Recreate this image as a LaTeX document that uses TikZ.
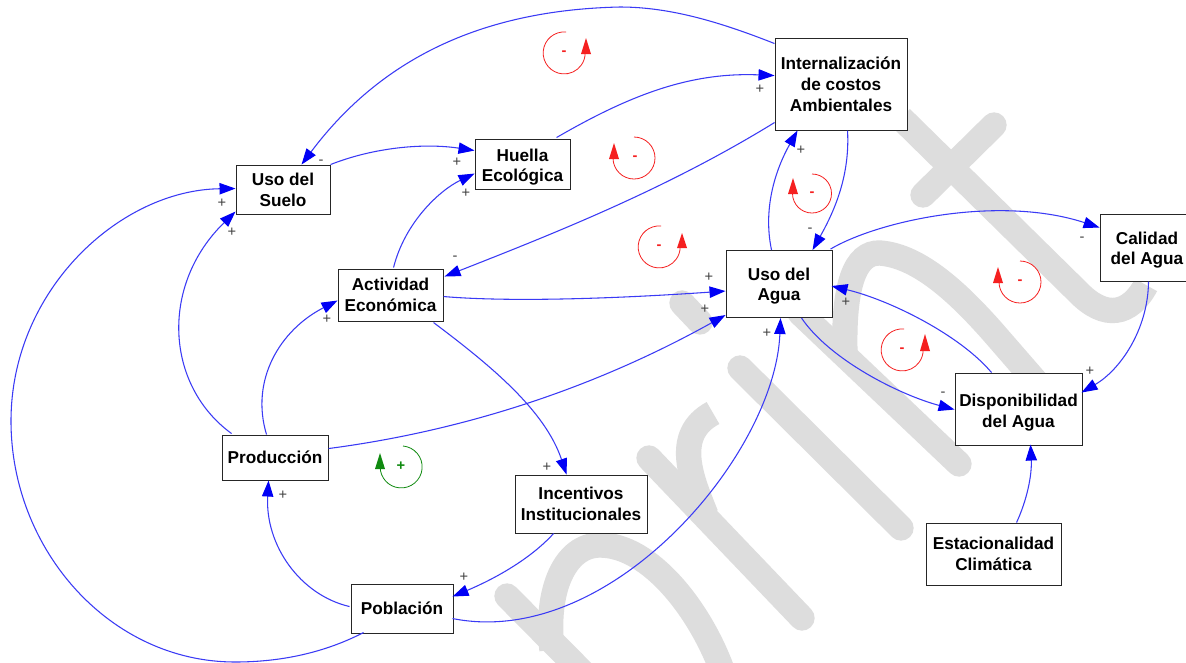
\documentclass[tikz,border=0pt]{standalone}
\usepackage{fontspec}
\setmainfont{Liberation Sans}
\usetikzlibrary{arrows.meta}
\definecolor{wm}{HTML}{DDDDDD}
\definecolor{linkblue}{HTML}{3A3AF5}
\definecolor{tipblue}{HTML}{0000F5}
\definecolor{loopred}{HTML}{F52020}
\definecolor{loopgreen}{HTML}{108A10}
\tikzset{
  px/.style={x=0.75pt,y=-0.75pt},
  mark stroke/.style={draw=wm,line width=19pt,line cap=round},
  box/.style={draw=black!85,fill=white,line width=0.7pt,inner sep=0pt,align=center,
    font=\fontsize{12.9}{15.6}\selectfont\bfseries},
  link/.style={draw=linkblue,line width=0.8pt,-{Triangle[length=12pt,width=8.5pt,color=tipblue]}},
  signlabel/.style={font=\fontsize{11}{11}\selectfont,text=black!75,inner sep=0pt},
  loopline/.style={line width=0.6pt},
  loopsign/.style={font=\fontsize{11}{11}\selectfont\bfseries,inner sep=0pt},
}
\begin{document}
\begin{tikzpicture}[px]
\useasboundingbox (0,0) rectangle (1186,662);
\fill[white] (0,0) rectangle (1186,662);
% watermark
\begin{scope}
\clip (0,0) rectangle (1186,662);
\draw[mark stroke] (507,596) -- (610,700);
\draw[mark stroke,line cap=butt] (552,650) .. controls (545,590) and (565,545) .. (600,545) .. controls (650,545) and (700,610) .. (722,670);
\draw[mark stroke] (649,458) -- (802,618);
\draw[mark stroke,line cap=butt] (706,515) .. controls (692,480) and (672,435) .. (713,413);
\draw[mark stroke] (740,368) -- (901,528);
\draw[mark stroke] (682,303) -- (700,322);
\draw[mark stroke] (800,313) -- (959,464);
\draw[mark stroke,line cap=butt] (845,355) .. controls (843,285) and (855,252) .. (880,253) .. controls (920,256) and (960,295) .. (992,331) -- (1045,392);
\draw[mark stroke,line cap=butt] (901,118) -- (1078,292) .. controls (1105,320) and (1130,315) .. (1146,285);
\draw[mark stroke] (994,125) -- (923,195);
\end{scope}
% boxes
\node[box,minimum width=94*0.75pt,minimum height=49*0.75pt] (suelo) at (283,189.5) {Uso del\\Suelo};
\node[box,minimum width=95*0.75pt,minimum height=50*0.75pt] (huella) at (522.5,164) {\rule{0pt}{13.9pt}Huella\\Ecológica};
\node[box,minimum width=132*0.75pt,minimum height=92*0.75pt] (costos) at (841,84) {Internalización\\de costos\\Ambientales};
\node[box,minimum width=105*0.75pt,minimum height=52*0.75pt] (actividad) at (390.5,295) {Actividad\\Económica};
\node[box,minimum width=106*0.75pt,minimum height=67*0.75pt] (uso) at (779,284) {\rule{0pt}{12.4pt}Uso del\\Agua};
\node[box,minimum width=94*0.75pt,minimum height=67*0.75pt] (calidad) at (1147,247.5) {\rule{0pt}{13.2pt}Calidad\\del Agua};
\node[box,minimum width=127*0.75pt,minimum height=72*0.75pt] (dispo) at (1018.5,409) {\rule{0pt}{14.6pt}Disponibilidad\\del Agua};
\node[box,minimum width=106*0.75pt,minimum height=45*0.75pt] (prod) at (275,457.5) {Producción};
\node[box,minimum width=132*0.75pt,minimum height=58*0.75pt] (incent) at (581,504) {Incentivos\\Institucionales};
\node[box,minimum width=102*0.75pt,minimum height=49*0.75pt] (pobl) at (402,608.5) {Población};
\node[box,minimum width=135*0.75pt,minimum height=62*0.75pt] (estac) at (993.5,554) {Estacionalidad\\Climática};
% connectors
\draw[link] ([shift={(0,6)}]costos.north west) .. controls (720,22) and (670,7) .. (620,7) .. controls (480,10) and (380,60) .. ([shift={(66,0)}]suelo.north west);
\draw[link] ([shift={(95,0)}]suelo.north west) .. controls (375,147) and (425,143) .. ([shift={(0,12)}]huella.north west);
\draw[link] ([shift={(82,-1)}]huella.north west) .. controls (630,95) and (690,72) .. ([shift={(0,38)}]costos.north west);
\draw[link] ([shift={(0,85)}]costos.north west) .. controls (665,190) and (550,235) .. ([shift={(107,8)}]actividad.north west);
\draw[link] ([shift={(56,-1)}]actividad.north west) .. controls (405,222) and (440,190) .. ([shift={(0,35)}]huella.north west);
\draw[link] ([shift={(106,28)}]actividad.north west) .. controls (520,303) and (640,297) .. ([shift={(0,41)}]uso.north west);
\draw[link] ([shift={(96,54)}]actividad.north west) .. controls (490,365) and (545,410) .. ([shift={(52,0)}]incent.north west);
\draw[link] ([shift={(10,-1)}]prod.north west) .. controls (165,385) and (160,285) .. ([shift={(0,47)}]suelo.north west);
\draw[link] ([shift={(45,0)}]prod.north west) .. controls (250,380) and (280,330) .. ([shift={(0,32)}]actividad.north west);
\draw[link] ([shift={(107,14)}]prod.north west) .. controls (470,430) and (600,385) .. ([shift={(0,65)}]uso.north west);
\draw[link] ([shift={(13,49)}]pobl.north west) .. controls (320,655) and (275,662) .. (235,662) .. controls (110,662) and (11,550) .. (11,421) .. controls (11,290) and (120,190) .. ([shift={(0,24)}]suelo.north west);
\draw[link] ([shift={(-1,23)}]pobl.north west) .. controls (300,595) and (265,545) .. ([shift={(47,46)}]prod.north west);
\draw[link] ([shift={(39,59)}]incent.north west) .. controls (525,565) and (480,585) .. ([shift={(102,13)}]pobl.north west);
\draw[link] ([shift={(102,35)}]pobl.north west) .. controls (610,650) and (775,455) .. ([shift={(55,68)}]uso.north west);
\draw[link] ([shift={(46,0)}]uso.north west) .. controls (762,205) and (778,165) .. ([shift={(23,93)}]costos.north west);
\draw[link] ([shift={(73,93)}]costos.north west) .. controls (850,175) and (835,210) .. ([shift={(87,0)}]uso.north west);
\draw[link] ([shift={(105,-1)}]uso.north west) .. controls (880,220) and (1000,195) .. ([shift={(0,14)}]calidad.north west);
\draw[link] ([shift={(49,68)}]calidad.north west) .. controls (1148,330) and (1120,370) .. ([shift={(127,20)}]dispo.north west);
\draw[link] ([shift={(37,0)}]dispo.north west) .. controls (960,335) and (890,300) .. ([shift={(106,36)}]uso.north west);
\draw[link] ([shift={(76,68)}]uso.north west) .. controls (830,360) and (900,395) .. ([shift={(0,37)}]dispo.north west);
\draw[link] ([shift={(91,0)}]estac.north west) .. controls (1027,500) and (1032,475) .. ([shift={(76,72)}]dispo.north west);
% polarity labels
\node[signlabel] (s1) at (321,162) {-};
\node[signlabel] (s2) at (457,162) {+};
\node[signlabel] (s3) at (466,193) {+};
\node[signlabel] (s4) at (222,203) {+};
\node[signlabel] (s5) at (232,232) {+};
\node[signlabel] (s6) at (455,258) {-};
\node[signlabel] (s7) at (327,319) {+};
\node[signlabel] (s8) at (760,89) {+};
\node[signlabel] (s9) at (801,150) {+};
\node[signlabel] (s10) at (810,230) {-};
\node[signlabel] (s11) at (1082,239) {-};
\node[signlabel] (s12) at (709,277) {+};
\node[signlabel] (s13) at (705,309) {+};
\node[signlabel] (s14) at (846,302) {+};
\node[signlabel] (s15) at (547,467) {+};
\node[signlabel] (s16) at (283,495) {+};
\node[signlabel] (s17) at (464,577) {+};
\node[signlabel] (s18) at (767,333) {+};
\node[signlabel] (s19) at (1090,371) {+};
\node[signlabel] (s20) at (943,394) {-};
% loops: arrow on the right
\draw[loopline,loopred] (566,32) arc[start angle=-85,end angle=-360,radius=21];
\fill[loopred] (581,54) -- (586,38) -- (591,54) -- cycle;
\node[loopsign,text=loopred] (l1) at (564,53) {-};
\draw[loopline,loopred] (661,226) arc[start angle=-85,end angle=-360,radius=21];
\fill[loopred] (677,248) -- (682,233) -- (687,248) -- cycle;
\node[loopsign,text=loopred] (l4) at (659,247) {-};
\draw[loopline,loopred] (904,329) arc[start angle=-85,end angle=-360,radius=21];
\fill[loopred] (920,351) -- (925,334) -- (930,351) -- cycle;
\node[loopsign,text=loopred] (l6) at (902,350) {-};
% loops: arrow on the left
\draw[loopline,loopred] (634,137) arc[start angle=-90,end angle=180,radius=21];
\fill[loopred] (609,159) -- (614,143) -- (619,159) -- cycle;
\node[loopsign,text=loopred] (l2) at (635,158) {-};
\draw[loopline,loopred] (812,174) arc[start angle=-90,end angle=180,radius=19.5];
\fill[loopred] (788,194) -- (793,178) -- (798,194) -- cycle;
\node[loopsign,text=loopred] (l3) at (812,194) {-};
\draw[loopline,loopred] (1020,261) arc[start angle=-90,end angle=180,radius=21];
\fill[loopred] (993,283) -- (998,267) -- (1003,283) -- cycle;
\node[loopsign,text=loopred] (l5) at (1020,282) {-};
\draw[loopline,loopgreen] (403,446) arc[start angle=-85,end angle=180,radius=21];
\fill[loopgreen] (375,469) -- (380,453) -- (385,469) -- cycle;
\node[loopsign,text=loopgreen] (l7) at (401,466) {+};
\end{tikzpicture}
\end{document}
